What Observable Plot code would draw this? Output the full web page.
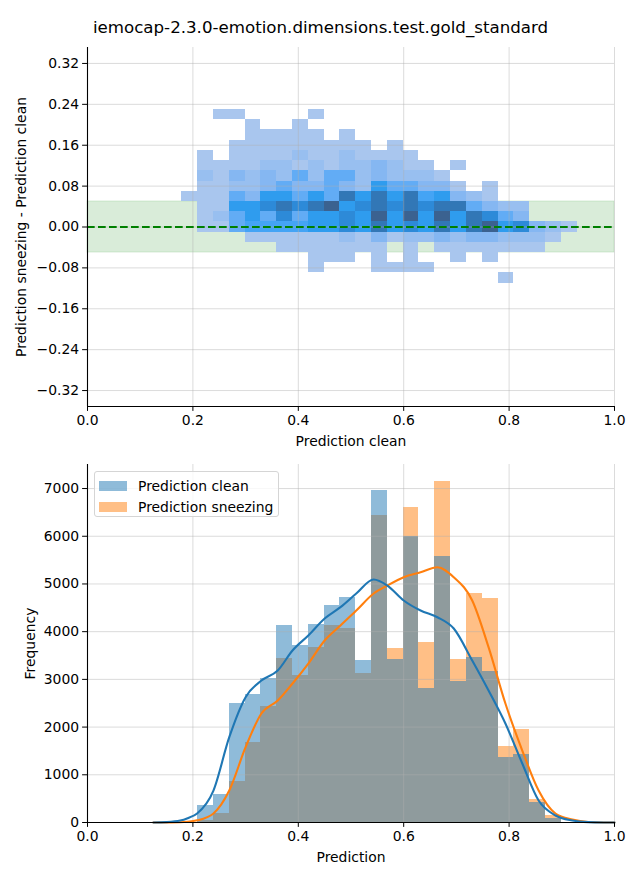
<!DOCTYPE html>
<html>
<head>
<meta charset="utf-8">
<script src="https://cdn.jsdelivr.net/npm/d3@7"></script>
<script src="https://cdn.jsdelivr.net/npm/@observablehq/plot@0.6"></script>
<style>
  html, body { margin: 0; padding: 0; background: #fff; }
  #root { position: relative; width: 640px; height: 880px; font-family: "DejaVu Sans", sans-serif; color: #000; }
  #title { position: absolute; left: 0; width: 641px; top: 17px; text-align: center; font-size: 16.67px; line-height: 22px; }
  #top { position: absolute; left: 0; top: 40px; }
  #bottom { position: absolute; left: 0; top: 450px; }
  #legend { position: absolute; left: 94px; top: 471px; width: 185px; height: 46px; box-sizing: border-box;
            border: 1px solid #d5d5d5; border-radius: 3px; background: rgba(255,255,255,0.8); font-size: 13.9px; }
  .lrow { position: absolute; left: 4px; height: 14px; }
  .lsw { position: absolute; left: 0; top: 2px; width: 28px; height: 10px; }
  .ltx { position: absolute; left: 39px; top: -2px; white-space: nowrap; line-height: 18px; }
  svg { overflow: visible; }
</style>
</head>
<body>
<div id="root">
  <div id="title"></div>
  <div id="top"></div>
  <div id="bottom"></div>
  <div id="legend"></div>
</div>
<script>
// ---------------- DATA ----------------
const chartTitle = "iemocap-2.3.0-emotion.dimensions.test.gold_standard";
const seriesNames = ["Prediction clean", "Prediction sneezing"];
const seriesColors = ["#1f77b4", "#ff7f0e"];

const xTicks = [0, 0.2, 0.4, 0.6, 0.8, 1.0];
const xDomain = [0, 1];
const topYTicks = [-0.32, -0.24, -0.16, -0.08, 0, 0.08, 0.16, 0.24, 0.32];
const topYDomain = [-0.3512, 0.3512];
const bandLimits = [-0.05, 0.05];
const zeroLine = [0];
const bottomYTicks = [0, 1000, 2000, 3000, 4000, 5000, 6000, 7000];
const bottomYDomain = [0, 7504];

// 2D histogram (top): x bin edges, y bin edges (top -> bottom), cell counts (relative levels)
const heatXEdges = [0.179, 0.209, 0.239, 0.269, 0.299, 0.329, 0.359, 0.389, 0.419, 0.449, 0.479, 0.509, 0.539,
  0.569, 0.599, 0.629, 0.659, 0.689, 0.719, 0.749, 0.779, 0.809, 0.839, 0.869, 0.899, 0.929];
const heatYEdges = [0.230, 0.210, 0.190, 0.170, 0.150, 0.130, 0.110, 0.090, 0.070, 0.050, 0.030, 0.010,
  -0.010, -0.030, -0.050, -0.070, -0.090, -0.110];
const heatCounts = [
  [0,0,1,1,0,0,0,0,1,0,0,0,0,0,0,0,0,0,0,0,0,0,0,0,0],
  [0,0,0,0,1,0,0,1,0,0,0,0,0,0,0,0,0,0,0,0,0,0,0,0,0],
  [0,0,0,0,1,1,1,1,1,0,1,0,0,0,0,0,0,0,0,0,0,0,0,0,0],
  [0,0,0,1,1,1,1,1,1,1,1,1,0,1,0,0,0,0,0,0,0,0,0,0,0],
  [0,1,0,1,1,1,1,2,1,1,2,1,1,1,1,0,0,0,0,0,0,0,0,0,0],
  [0,1,1,1,1,2,2,1,2,1,2,2,3,2,1,1,0,1,0,0,0,0,0,0,0],
  [0,2,1,3,2,3,2,4,2,4,4,2,3,2,2,2,1,0,0,0,0,0,0,0,0],
  [0,1,1,2,2,3,4,3,3,4,3,2,6,4,4,3,3,1,0,1,0,0,0,0,0],
  [1,1,1,4,3,6,6,4,6,4,8,6,8,6,8,5,6,3,2,1,0,0,0,0,0],
  [0,1,1,6,6,7,8,7,8,9,6,7,8,7,8,7,8,8,4,3,2,2,0,0,0],
  [0,1,2,4,6,4,7,4,6,6,7,6,9,6,9,6,9,6,8,7,4,3,0,0,0],
  [0,1,1,4,5,5,5,5,6,6,7,6,8,6,7,6,8,6,8,9,6,7,3,2,1],
  [0,0,0,0,1,1,1,1,1,1,2,1,3,1,2,2,3,2,3,3,2,2,2,1,0],
  [0,0,0,0,0,0,1,1,1,1,1,1,1,0,1,0,1,1,1,1,1,1,1,0,0],
  [0,0,0,0,0,0,0,0,1,1,1,0,1,0,1,0,0,1,0,1,0,0,0,0,0],
  [0,0,0,0,0,0,0,0,1,0,0,0,1,1,1,1,0,0,0,0,0,0,0,0,0],
  [0,0,0,0,0,0,0,0,0,0,0,0,0,0,0,0,0,0,0,0,1,0,0,0,0]
];
const heatLevels = [1, 2, 3, 4, 5, 6, 7, 8, 9];
const heatPalette = ["#a9c6ee", "#98bff0", "#85b7f2", "#62acf5", "#44a4f5", "#2f9cee", "#2d8ad8", "#3277b6", "#3b6290"];

// 1D histograms (bottom)
const histEdges = [0.209, 0.239, 0.269, 0.299, 0.329, 0.359, 0.389, 0.419, 0.449, 0.479, 0.509, 0.539,
  0.569, 0.599, 0.629, 0.659, 0.689, 0.719, 0.749, 0.779, 0.809, 0.839, 0.869, 0.899];
const histClean = [356, 587, 2487, 2683, 3011, 4129, 3710, 4150, 4548, 4723, 3395, 6958, 3416, 6000, 2816,
  5575, 2962, 3458, 3165, 1369, 1425, 419, 77];
const histSneezing = [45, 195, 866, 1677, 2431, 3444, 3081, 3675, 4129, 4059, 3130, 6435, 3654, 6603, 3773,
  7147, 3416, 4800, 4695, 1593, 1949, 482, 147];

// KDE curves
const kdeX = [0.125, 0.15, 0.176, 0.19, 0.208, 0.239, 0.269, 0.30, 0.33, 0.361, 0.389, 0.419, 0.45, 0.48, 0.51,
  0.543, 0.569, 0.60, 0.632, 0.664, 0.695, 0.73, 0.761, 0.793, 0.825, 0.856, 0.888, 0.92, 0.95, 0.98, 1.0];
const kdeClean = [0, 8, 40, 90, 190, 670, 1788, 2627, 2976, 3186, 3605, 3920, 4276, 4513, 4800,
  5093, 4967, 4653, 4443, 4303, 4066, 3395, 2767, 2075, 1236, 461, 147, 42, 8, 1, 0];
const kdeSneezing = [0, 1, 5, 15, 45, 190, 670, 1578, 2284, 2557, 2913, 3332, 3815, 4129, 4443,
  4800, 4967, 5141, 5246, 5351, 5141, 4653, 3675, 2494, 1509, 670, 189, 63, 12, 1, 0];

// ---------------- BUILD ----------------
document.getElementById("title").textContent = chartTitle;

const heatCells = [];
heatCounts.forEach((row, r) => row.forEach((v, c) => {
  if (v > 0) heatCells.push({x1: heatXEdges[c], x2: heatXEdges[c + 1], y1: heatYEdges[r + 1], y2: heatYEdges[r], v});
}));
const histRows = histClean.map((v, i) => ({x1: histEdges[i], x2: histEdges[i + 1], clean: v, sneezing: histSneezing[i]}));
const kdeRows = kdeX.map((x, i) => ({x, clean: kdeClean[i], sneezing: kdeSneezing[i]}));

const font = {fontFamily: "DejaVu Sans, sans-serif", fontSize: "13.9px", color: "#000", background: "transparent"};
const gridStyle = {stroke: "#b0b0b0", strokeOpacity: 0.45, strokeWidth: 1};
const fmt1 = d => d.toFixed(1);
const fmt2 = d => (d < 0 ? "\u2212" : "") + Math.abs(d).toFixed(2);

const topPlot = Plot.plot({
  width: 640, height: 410,
  marginLeft: 87, marginRight: 26, marginTop: 7, marginBottom: 44,
  style: font,
  x: {domain: xDomain},
  y: {domain: topYDomain},
  color: {type: "linear", domain: heatLevels, range: heatPalette, interpolate: "rgb"},
  marks: [
    Plot.rect(bandLimits.slice(0, 1), {y1: () => bandLimits[0], y2: () => bandLimits[1], fill: "green", fillOpacity: 0.15, stroke: "green", strokeOpacity: 0.12}),
    Plot.rect(heatCells, {x1: "x1", x2: "x2", y1: "y1", y2: "y2", fill: "v", inset: 0, shapeRendering: "crispEdges"}),
    Plot.gridX(xTicks, gridStyle),
    Plot.gridY(topYTicks, gridStyle),
    Plot.ruleY(zeroLine, {stroke: "green", strokeWidth: 2, strokeDasharray: "7.7,3.3"}),
    Plot.axisX(xTicks, {tickSize: 4.9, tickPadding: 3.5, tickFormat: fmt1, label: null}),
    Plot.axisY(topYTicks, {tickSize: 4.9, tickPadding: 3.5, tickFormat: fmt2, label: null}),
    Plot.ruleX(xDomain.slice(0, 1), {stroke: "#000", strokeWidth: 1.1}),
    Plot.ruleY(topYDomain.slice(0, 1), {stroke: "#000", strokeWidth: 1.1}),
    Plot.text(["Prediction clean"], {frameAnchor: "bottom", dy: 35, text: d => d, lineAnchor: "middle", fontSize: 13.9}),
    Plot.text(["Prediction sneezing - Prediction clean"], {frameAnchor: "left", dx: -66, rotate: -90, text: d => d, lineAnchor: "middle", textAnchor: "middle", fontSize: 13.9})
  ]
});
document.getElementById("top").appendChild(topPlot);

const bottomPlot = Plot.plot({
  width: 640, height: 430,
  marginLeft: 87, marginRight: 26, marginTop: 14, marginBottom: 58,
  style: font,
  x: {domain: xDomain},
  y: {domain: bottomYDomain},
  marks: [
    Plot.rect(histRows, {x1: "x1", x2: "x2", y1: () => 0, y2: "sneezing", fill: seriesColors[1], fillOpacity: 0.5, inset: 0, shapeRendering: "crispEdges"}),
    Plot.rect(histRows, {x1: "x1", x2: "x2", y1: () => 0, y2: "clean", fill: seriesColors[0], fillOpacity: 0.5, inset: 0, shapeRendering: "crispEdges"}),
    Plot.gridX(xTicks, gridStyle),
    Plot.gridY(bottomYTicks, gridStyle),
    Plot.line(kdeRows, {x: "x", y: "sneezing", stroke: seriesColors[1], strokeWidth: 2.1, curve: "monotone-x"}),
    Plot.line(kdeRows, {x: "x", y: "clean", stroke: seriesColors[0], strokeWidth: 2.1, curve: "monotone-x"}),
    Plot.axisX(xTicks, {tickSize: 4.9, tickPadding: 3.5, tickFormat: fmt1, label: null}),
    Plot.axisY(bottomYTicks, {tickSize: 4.9, tickPadding: 3.5, tickFormat: d => String(d), label: null}),
    Plot.ruleX(xDomain.slice(0, 1), {stroke: "#000", strokeWidth: 1.1}),
    Plot.ruleY(bottomYDomain.slice(0, 1), {stroke: "#000", strokeWidth: 1.1}),
    Plot.text(["Prediction"], {frameAnchor: "bottom", dy: 35, text: d => d, lineAnchor: "middle", fontSize: 13.9}),
    Plot.text(["Frequency"], {frameAnchor: "left", dx: -57, rotate: -90, text: d => d, lineAnchor: "middle", textAnchor: "middle", fontSize: 13.9})
  ]
});
document.getElementById("bottom").appendChild(bottomPlot);

// legend
const legend = document.getElementById("legend");
seriesNames.forEach((name, i) => {
  const row = document.createElement("div");
  row.className = "lrow";
  row.style.top = (7 + i * 21) + "px";
  const sw = document.createElement("div");
  sw.className = "lsw";
  sw.style.background = seriesColors[i];
  sw.style.opacity = 0.5;
  const tx = document.createElement("div");
  tx.className = "ltx";
  tx.textContent = name;
  row.appendChild(sw); row.appendChild(tx);
  legend.appendChild(row);
});
</script>
</body>
</html>
